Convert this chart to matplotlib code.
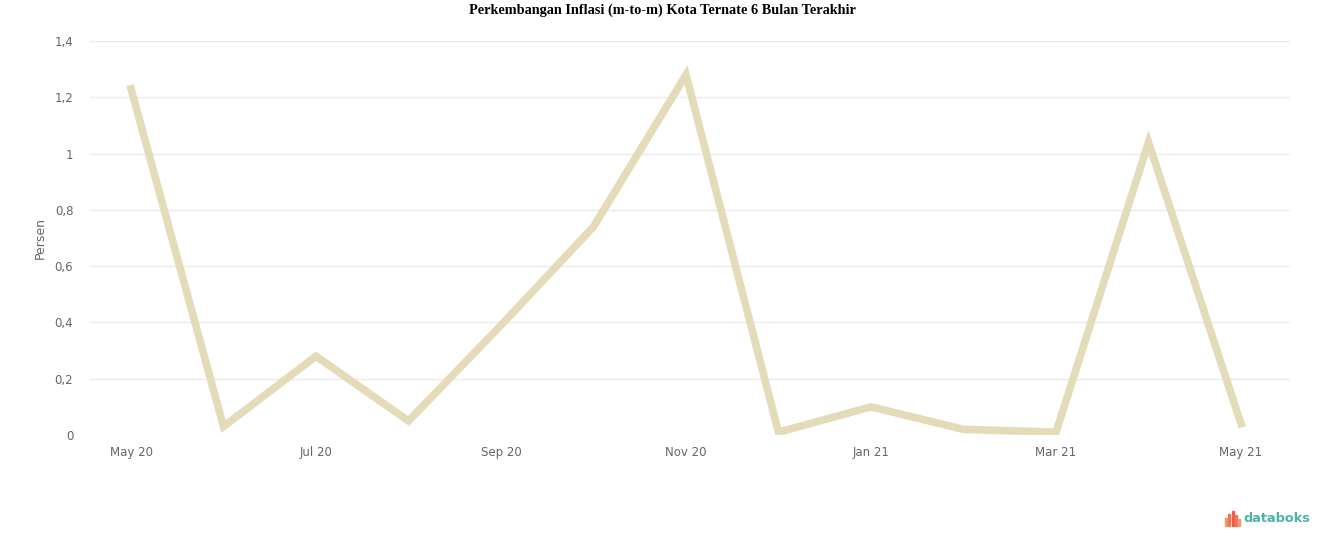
import matplotlib.pyplot as plt
from matplotlib.ticker import FuncFormatter
from matplotlib.patches import Rectangle

# Inflasi m-to-m Kota Ternate (persen)
months = ["May 20", "Jun 20", "Jul 20", "Aug 20", "Sep 20", "Oct 20", "Nov 20",
          "Dec 20", "Jan 21", "Feb 21", "Mar 21", "Apr 21", "May 21"]
inflasi = [1.23, 0.03, 0.28, 0.05, 0.39, 0.74, 1.28, 0.01, 0.10, 0.02, 0.01, 1.04, 0.04]
yticks = [0, 0.2, 0.4, 0.6, 0.8, 1.0, 1.2, 1.4]

fig = plt.figure(figsize=(13.24, 5.47), dpi=100)
ax = fig.add_axes([90 / 1324, 1 - 435 / 547, 1200 / 1324, (435 - 41) / 547])

x = list(range(len(months)))
ax.plot(x, inflasi, color="#e4dcb8", linewidth=5.5, solid_joinstyle="miter", zorder=3)

ax.set_xlim(-(131 - 90) / 92.5, 12 + (1290 - 1241) / 92.5)
ax.set_ylim(0, 1.4)
ax.set_yticks(yticks)
ax.yaxis.set_major_formatter(FuncFormatter(lambda v, p: ("%g" % round(v, 1)).replace(".", ",")))
ax.set_xticks(x[::2])
ax.set_xticklabels(months[::2])

ax.grid(axis="y", color="#ebebeb", linewidth=1)
ax.set_axisbelow(True)
for s in ax.spines.values():
    s.set_visible(False)
ax.tick_params(length=0, labelsize=8.5, labelcolor="#666666")
ax.tick_params(axis="y", pad=12)
ax.tick_params(axis="x", pad=8)
ax.set_ylabel("Persen", fontsize=9, color="#666666", labelpad=6)

fig.suptitle("Perkembangan Inflasi (m-to-m) Kota Ternate 6 Bulan Terakhir",
             family="Liberation Serif", fontweight="bold", fontsize=10.3, y=0.993)

# databoks logo
fig.text(1243 / 1324, 1 - 519 / 547, "databoks", fontsize=9.3, color="#4bb3a7",
         fontweight="bold", va="center", ha="left")
bar_h = [8, 12, 15, 11, 7]
bar_c = ["#f39a6a", "#ee7656", "#e8604c", "#ee7656", "#f39a6a"]
for i, (h, c) in enumerate(zip(bar_h, bar_c)):
    fig.patches.append(Rectangle(((1225 + i * 3.3) / 1324, 1 - 526 / 547),
                                 2.0 / 1324, h / 547, transform=fig.transFigure,
                                 color=c, zorder=5))

fig.savefig("out.png", dpi=100)
